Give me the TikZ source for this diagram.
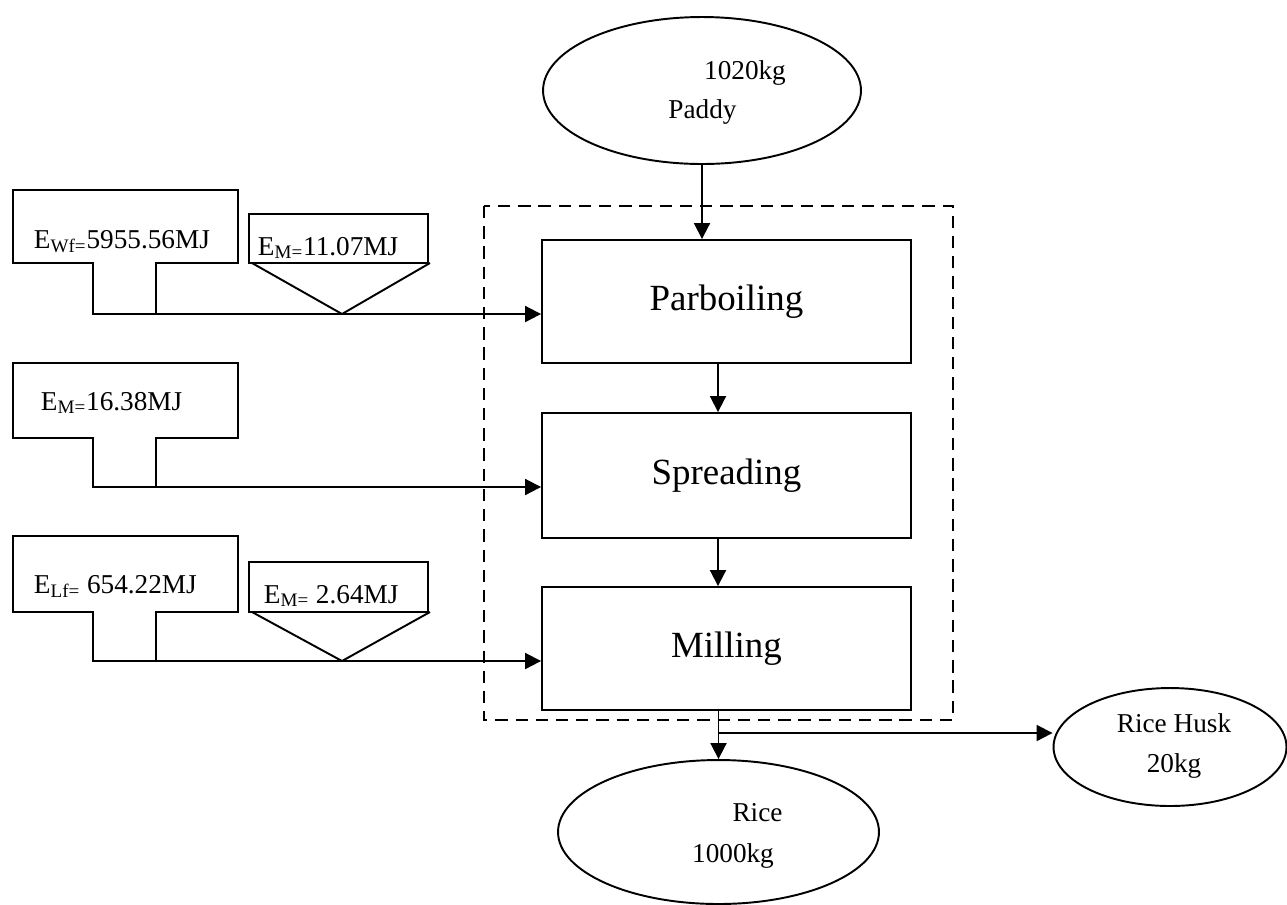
\documentclass[tikz,border=0pt]{standalone}
\usepackage{fontspec}
\setmainfont{Liberation Serif}
\usepackage{tikz}
\usetikzlibrary{shapes}
\usetikzlibrary{arrows.meta}
\usetikzlibrary{calc}

\begin{document}
\begin{tikzpicture}[x=0.02cm,y=-0.02cm,line width=1.1pt,
  txt/.style={font=\fontsize{15.5}{18}\selectfont,inner sep=0pt},
  stage/.style={draw,rectangle,minimum width=7.38cm,minimum height=#1,inner sep=0pt,font=\fontsize{21}{25}\selectfont},
  flow/.style={draw,ellipse,inner sep=0pt},
  arr/.style={-{Triangle[length=0.32cm,width=0.32cm]}}]
  \useasboundingbox (0,0) rectangle (1287,904);
  % process stages
  \node[stage=2.46cm] (parb) at (726.5,301.5) {Parboiling};
  \node[stage=2.5cm] (spread) at (726.5,475.5) {Spreading};
  \node[stage=2.46cm] (mill) at (726.5,648.5) {Milling};
  \draw[line width=1pt,dash pattern=on 7pt off 4.5pt] (484,206) rectangle (953,720);
  % mass in and out
  \node[flow,minimum width=6.36cm,minimum height=2.94cm] (paddy) at (702,90.5) {};
  \node[txt,anchor=base] (paddykg) at (745,79) {1020kg};
  \node[txt,anchor=base] (paddytxt) at (702.5,118) {Paddy};
  \node[flow,minimum width=6.42cm,minimum height=2.88cm] (rice) at (718.5,832) {};
  \node[txt,anchor=base] (ricetxt) at (757.5,821) {Rice};
  \node[txt,anchor=base] (ricekg) at (733,862) {1000kg};
  \node[flow,minimum width=4.66cm,minimum height=2.36cm] (husk) at (1170,747) {};
  \node[txt,anchor=base] (husktxt) at (1174,732) {Rice Husk};
  \node[txt,anchor=base] (huskkg) at (1174,772) {20kg};
  \draw[arr] (paddy.south) -- (paddy.south |- parb.north);
  \draw[arr] ([xshift=-0.17cm]parb.south) -- ([xshift=-0.17cm]spread.north);
  \draw[arr] ([xshift=-0.17cm]spread.south) -- ([xshift=-0.17cm]mill.north);
  \draw[arr] (mill.south -| rice.north) -- (rice.north);
  \coordinate (split) at (718.5,733);
  \draw[arr] (split) -- (split -| husk.west);
  % energy inputs
  \foreach \top/\bot/\foot/\name in {190/263/314/wf,363/438/487/ms,536/612/661/lf}{
    \draw (13,\top) -- (238,\top) -- (238,\bot) -- (156,\bot) -- (156,\foot) -- (93,\foot) -- (93,\bot) -- (13,\bot) -- cycle;
    \coordinate (\name) at (156,\foot);
  }
  \node[txt,anchor=base west] (wftxt) at (33,248) {E\textsubscript{Wf=}5955.56MJ};
  \node[txt,anchor=base west] (mstxt) at (40,410) {E\textsubscript{M=}16.38MJ};
  \node[txt,anchor=base west] (lftxt) at (33,593) {E\textsubscript{Lf=} 654.22MJ};
  \draw (249,214) rectangle (428,263);
  \draw (252,263) -- (342,314) -- (430,263);
  \node[txt,anchor=base west] (mone) at (257,255) {E\textsubscript{M=}11.07MJ};
  \draw (249,562) rectangle (428,612);
  \draw (252,612) -- (342,661) -- (430,612);
  \node[txt,anchor=base west] (mtwo) at (263,603) {E\textsubscript{M=} 2.64MJ};
  \draw[arr] (wf) -- (wf -| parb.west);
  \draw[arr] (ms) -- (ms -| spread.west);
  \draw[arr] (lf) -- (lf -| mill.west);
\end{tikzpicture}
\end{document}
